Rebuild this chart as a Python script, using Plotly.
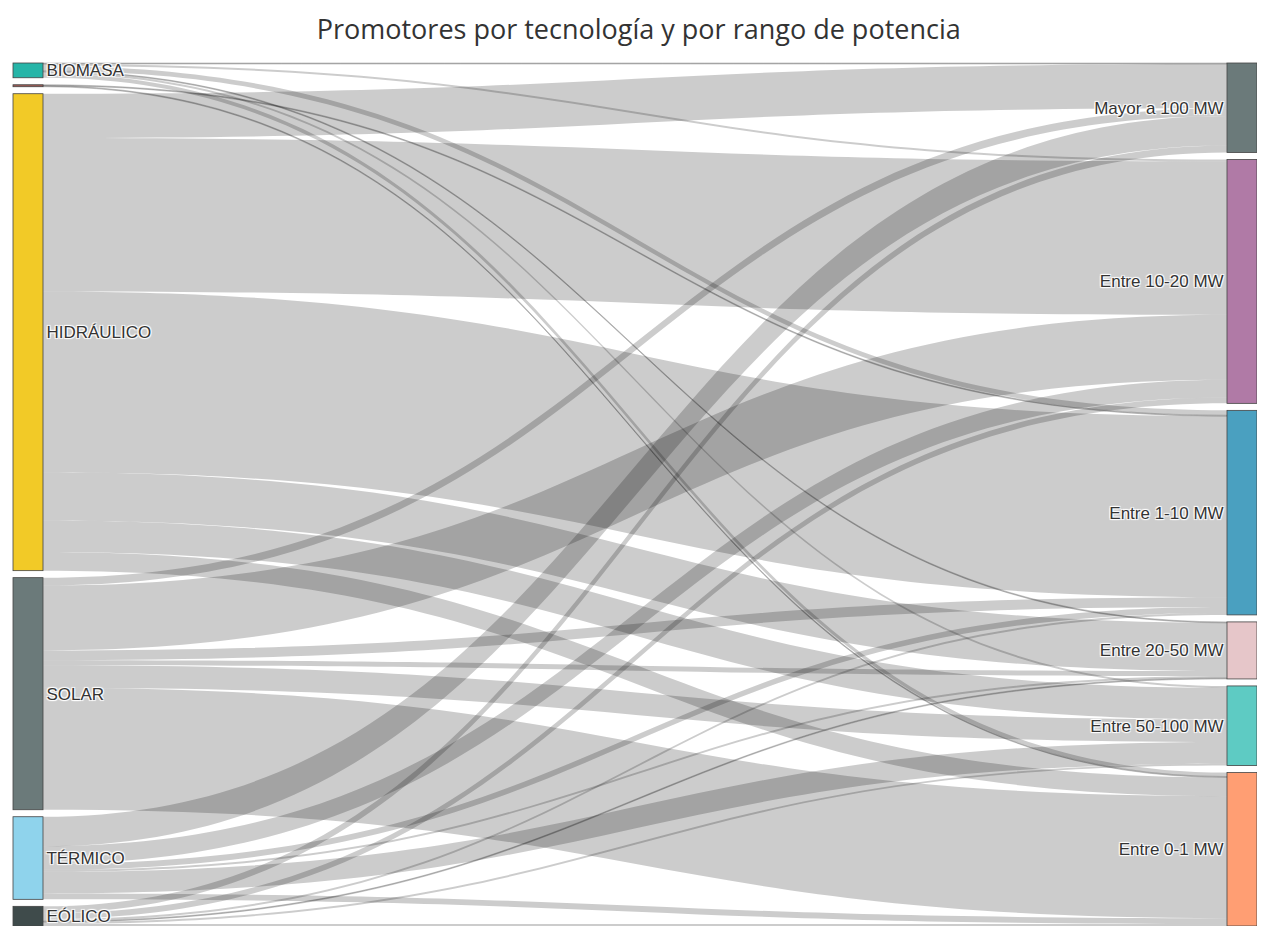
import plotly.graph_objects as go

# Nodos: tecnologías (izquierda) y rangos de potencia (derecha)
tecnologias = ["BIOMASA", "", "HIDRÁULICO", "SOLAR", "TÉRMICO", "EÓLICO"]
rangos = ["Mayor a 100 MW", "Entre 10-20 MW", "Entre 1-10 MW",
          "Entre 20-50 MW", "Entre 50-100 MW", "Entre 0-1 MW"]

# Promotores por tecnología, en el mismo orden que `rangos`
biomasa = [1, 2, 5, 1, 2, 4]
otros = [0, 0, 1, 0, 0, 1]
hidraulico = [45, 156, 184, 49, 32, 19]
solar = [8, 66, 10, 5, 23, 124]
termico = [30, 18, 6, 2, 22, 6]
eolico = [7, 6, 2, 1, 2, 2]

TEC_COLORS = ["#26b5a8", "#9c5b55", "#f2ca27", "#6b7a7a", "#8fd3ec", "#3f4b4b"]
RANGO_COLORS = ["#6b7a7a", "#b07aa6", "#4aa0c0", "#e6c6c9", "#5ecbc3", "#ff9e73"]

W, H = 1249, 918
MARGIN = dict(t=55, b=0, l=5, r=0)
PAD, THICK = 7, 30

filas = [biomasa, otros, hidraulico, solar, termico, eolico]
source, target, value = [], [], []
for i, fila in enumerate(filas):
    for j, v in enumerate(fila):
        if v > 0:
            source.append(i)
            target.append(len(tecnologias) + j)
            value.append(v)

# keep the original node order in each column (plotly would otherwise reorder)
tec_tot = [sum(f) for f in filas]
rango_tot = [sum(f[j] for f in filas) for j in range(len(rangos))]
plot_w = W - MARGIN["l"] - MARGIN["r"]
plot_h = H - MARGIN["t"] - MARGIN["b"]
ky = (plot_h - PAD * (len(tecnologias) - 1)) / sum(tec_tot)


def column_y(totals):
    ys, acc = [], 0
    for k, v in enumerate(totals):
        ys.append((ky * (acc + v / 2) + k * PAD) / plot_h)
        acc += v
    return ys


node_x = [THICK / 2 / plot_w] * len(tecnologias) + [1 - THICK / 2 / plot_w] * len(rangos)
node_y = column_y(tec_tot) + column_y(rango_tot)

fig = go.Figure(go.Sankey(
    arrangement="snap",
    node=dict(
        label=tecnologias + rangos,
        color=TEC_COLORS + RANGO_COLORS,
        x=node_x,
        y=node_y,
        pad=PAD,
        thickness=THICK,
        line=dict(color="#444", width=0.8),
    ),
    link=dict(source=source, target=target, value=value,
              color="rgba(0,0,0,0.2)"),
    textfont=dict(family="Arial, Liberation Sans, sans-serif", size=17, color="#333"),
))

fig.update_layout(
    title=dict(text="Promotores por tecnología y por rango de potencia",
               x=0.505, y=0.976, xanchor="center", yanchor="middle",
               font=dict(family="Open Sans, sans-serif", size=27, color="#333")),
    width=W,
    height=H,
    margin=MARGIN,
    paper_bgcolor="white",
)

fig.write_html("out.html")
